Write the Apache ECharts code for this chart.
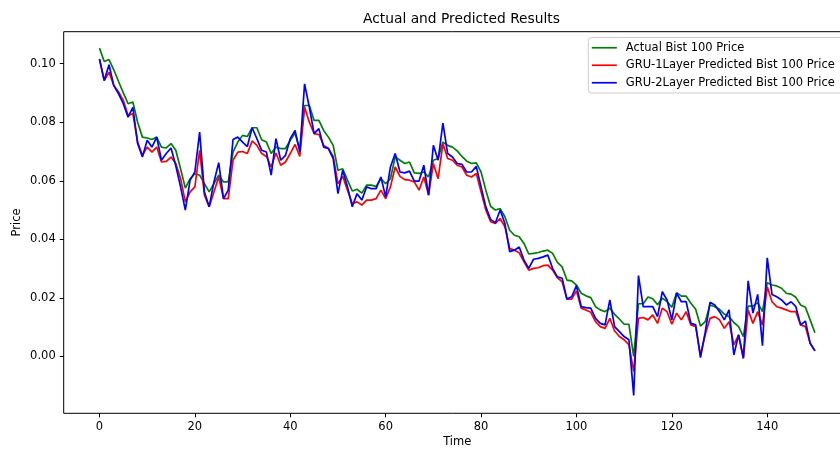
<!DOCTYPE html>
<html>
<head>
<meta charset="utf-8">
<script src="https://cdn.jsdelivr.net/npm/echarts@6/dist/echarts.min.js"></script>
<style>html,body{margin:0;padding:0;background:#fff}#c{width:840px;height:449px}</style>
</head>
<body>
<div id="c"></div>
<script>
var actual = [0.1053,0.1007,0.1014,0.0979,0.0939,0.0900,0.0863,0.0869,0.0800,0.0749,
0.0746,0.0741,0.0749,0.0715,0.0712,0.0727,0.0704,0.0641,0.0575,0.0607,
0.0624,0.0619,0.0590,0.0562,0.0590,0.0619,0.0596,0.0596,0.0698,0.0732,
0.0755,0.0751,0.0781,0.0781,0.0740,0.0732,0.0693,0.0715,0.0710,0.0710,
0.0738,0.0763,0.0706,0.0857,0.0857,0.0806,0.0806,0.0772,0.0749,0.0721,
0.0636,0.0641,0.0602,0.0565,0.0571,0.0558,0.0585,0.0585,0.0581,0.0607,
0.0590,0.0607,0.0681,0.0670,0.0659,0.0664,0.0627,0.0625,0.0630,0.0613,
0.0670,0.0676,0.0732,0.0721,0.0715,0.0702,0.0683,0.0667,0.0659,0.0661,
0.0630,0.0568,0.0513,0.0500,0.0505,0.0477,0.0431,0.0414,0.0409,0.0386,
0.0350,0.0352,0.0355,0.0360,0.0363,0.0352,0.0321,0.0306,0.0261,0.0258,
0.0244,0.0216,0.0207,0.0201,0.0170,0.0159,0.0153,0.0165,0.0144,0.0128,
0.0110,0.0110,0.0000,0.0180,0.0180,0.0203,0.0197,0.0177,0.0199,0.0188,
0.0168,0.0218,0.0206,0.0206,0.0182,0.0161,0.0104,0.0119,0.0176,0.0170,
0.0161,0.0145,0.0136,0.0116,0.0102,0.0068,0.0172,0.0172,0.0184,0.0153,
0.0252,0.0244,0.0241,0.0233,0.0216,0.0213,0.0202,0.0176,0.0168,0.0125,
0.0081];
var gru1 = [0.1014,0.0942,0.0971,0.0925,0.0903,0.0874,0.0823,0.0829,0.0732,0.0687,
0.0715,0.0698,0.0715,0.0664,0.0666,0.0681,0.0659,0.0607,0.0528,0.0562,
0.0579,0.0704,0.0551,0.0511,0.0562,0.0613,0.0539,0.0539,0.0670,0.0698,
0.0700,0.0693,0.0736,0.0721,0.0693,0.0683,0.0647,0.0695,0.0653,0.0664,
0.0693,0.0724,0.0683,0.0851,0.0800,0.0761,0.0758,0.0721,0.0710,0.0683,
0.0590,0.0615,0.0568,0.0522,0.0528,0.0517,0.0534,0.0534,0.0539,0.0568,
0.0539,0.0579,0.0647,0.0615,0.0604,0.0602,0.0596,0.0568,0.0613,0.0551,
0.0659,0.0607,0.0727,0.0676,0.0670,0.0653,0.0647,0.0619,0.0613,0.0625,
0.0562,0.0500,0.0460,0.0454,0.0471,0.0443,0.0369,0.0363,0.0354,0.0323,
0.0295,0.0301,0.0303,0.0310,0.0312,0.0295,0.0269,0.0255,0.0196,0.0196,
0.0224,0.0165,0.0159,0.0151,0.0119,0.0102,0.0096,0.0130,0.0087,0.0068,
0.0057,0.0040,-0.0051,0.0130,0.0133,0.0125,0.0142,0.0113,0.0165,0.0153,
0.0110,0.0148,0.0125,0.0153,0.0108,0.0102,0.0005,0.0074,0.0130,0.0136,
0.0125,0.0096,0.0119,0.0040,0.0074,-0.0006,0.0159,0.0113,0.0153,0.0108,
0.0238,0.0187,0.0170,0.0165,0.0159,0.0153,0.0153,0.0108,0.0102,0.0045,
0.0019];
var gru2 = [0.1016,0.0942,0.0996,0.0925,0.0897,0.0863,0.0817,0.0851,0.0727,0.0681,
0.0738,0.0715,0.0749,0.0670,0.0693,0.0712,0.0651,0.0579,0.0500,0.0602,
0.0630,0.0766,0.0562,0.0511,0.0596,0.0662,0.0539,0.0568,0.0741,0.0749,
0.0732,0.0717,0.0781,0.0744,0.0704,0.0698,0.0619,0.0744,0.0670,0.0687,
0.0744,0.0772,0.0698,0.0931,0.0851,0.0761,0.0778,0.0715,0.0710,0.0676,
0.0556,0.0636,0.0579,0.0511,0.0556,0.0534,0.0579,0.0573,0.0573,0.0613,
0.0545,0.0647,0.0693,0.0630,0.0627,0.0633,0.0599,0.0599,0.0653,0.0551,
0.0721,0.0670,0.0797,0.0693,0.0681,0.0659,0.0656,0.0630,0.0630,0.0649,
0.0579,0.0511,0.0468,0.0456,0.0500,0.0454,0.0358,0.0363,0.0374,0.0329,
0.0301,0.0332,0.0335,0.0340,0.0346,0.0301,0.0272,0.0267,0.0196,0.0204,
0.0242,0.0170,0.0167,0.0165,0.0130,0.0113,0.0108,0.0193,0.0102,0.0085,
0.0068,0.0057,-0.0133,0.0276,0.0170,0.0170,0.0170,0.0136,0.0221,0.0193,
0.0125,0.0216,0.0187,0.0187,0.0113,0.0108,-0.0004,0.0083,0.0185,0.0176,
0.0153,0.0125,0.0159,0.0005,0.0074,-0.0006,0.0258,0.0148,0.0212,0.0037,
0.0337,0.0212,0.0204,0.0193,0.0176,0.0187,0.0170,0.0108,0.0121,0.0045,
0.0019];
var xTicks = [0,20,40,60,80,100,120,140];
var yTicks = [0,0.02,0.04,0.06,0.08,0.10];
var seriesNames = ['Actual Bist 100 Price','GRU-1Layer Predicted Bist 100 Price','GRU-2Layer Predicted Bist 100 Price'];
var colors = ['#008000','#ff0000','#0000ff'];

function pairs(arr){ return arr.map(function(v,i){ return [i, v]; }); }
var FONT = 'DejaVu Sans';
var chart = echarts.init(document.getElementById('c'), null, {renderer:'canvas'});
var dataSets = [actual, gru1, gru2];
chart.setOption({
  animation: false,
  backgroundColor: '#fff',
  title: {
    text: 'Actual and Predicted Results',
    left: 456.5, top: 7, textAlign: 'center',
    textStyle: {fontFamily: FONT, fontSize: 13.8, fontWeight: 'normal', color: '#000'}
  },
  legend: {
    orient: 'vertical', left: 588.3, top: 37.5,
    padding: [1.5, 14, 1.5, 3.5],
    itemGap: 0, itemWidth: 25, itemHeight: 1.7,
    icon: 'rect',
    backgroundColor: 'rgba(255,255,255,0.8)',
    borderColor: '#cccccc', borderWidth: 1, borderRadius: 3,
    textStyle: {fontFamily: FONT, fontSize: 11.5, color: '#000', lineHeight: 17.5, padding: [0,0,0,4]},
    data: seriesNames
  },
  grid: {
    left: 63.7, top: 31.7, width: 787, height: 381.6,
    show: true, borderColor: '#000', borderWidth: 1, containLabel: false,
    outerBoundsMode: 'none'
  },
  xAxis: {
    type: 'value', min: -7.5, max: 157.5,
    name: 'Time', nameLocation: 'middle', nameGap: 23, nameMoveOverlap: false,
    nameTextStyle: {fontFamily: FONT, fontSize: 11.5, color: '#000'},
    axisLine: {show: false, onZero: false},
    axisTick: {show: true, length: 4, lineStyle: {color: '#000', width: 1}, customValues: xTicks},
    axisLabel: {fontFamily: FONT, fontSize: 11.5, color: '#000', margin: 8, customValues: xTicks},
    splitLine: {show: false}
  },
  yAxis: {
    type: 'value', min: -0.0194, max: 0.1109,
    name: 'Price', nameLocation: 'middle', nameGap: 41, nameMoveOverlap: false,
    nameTextStyle: {fontFamily: FONT, fontSize: 11.5, color: '#000'},
    axisLine: {show: false, onZero: false},
    axisTick: {show: true, length: 4, lineStyle: {color: '#000', width: 1}, customValues: yTicks},
    axisLabel: {fontFamily: FONT, fontSize: 11.5, color: '#000', margin: 8, customValues: yTicks,
      formatter: function(v){ return v.toFixed(2); }},
    splitLine: {show: false}
  },
  series: seriesNames.map(function(n, k){
    return {
      name: n, type: 'line', data: pairs(dataSets[k]),
      showSymbol: false, symbol: 'none',
      lineStyle: {color: colors[k], width: 1.7},
      itemStyle: {color: colors[k]},
      emphasis: {disabled: true}
    };
  })
});
</script>
</body>
</html>
